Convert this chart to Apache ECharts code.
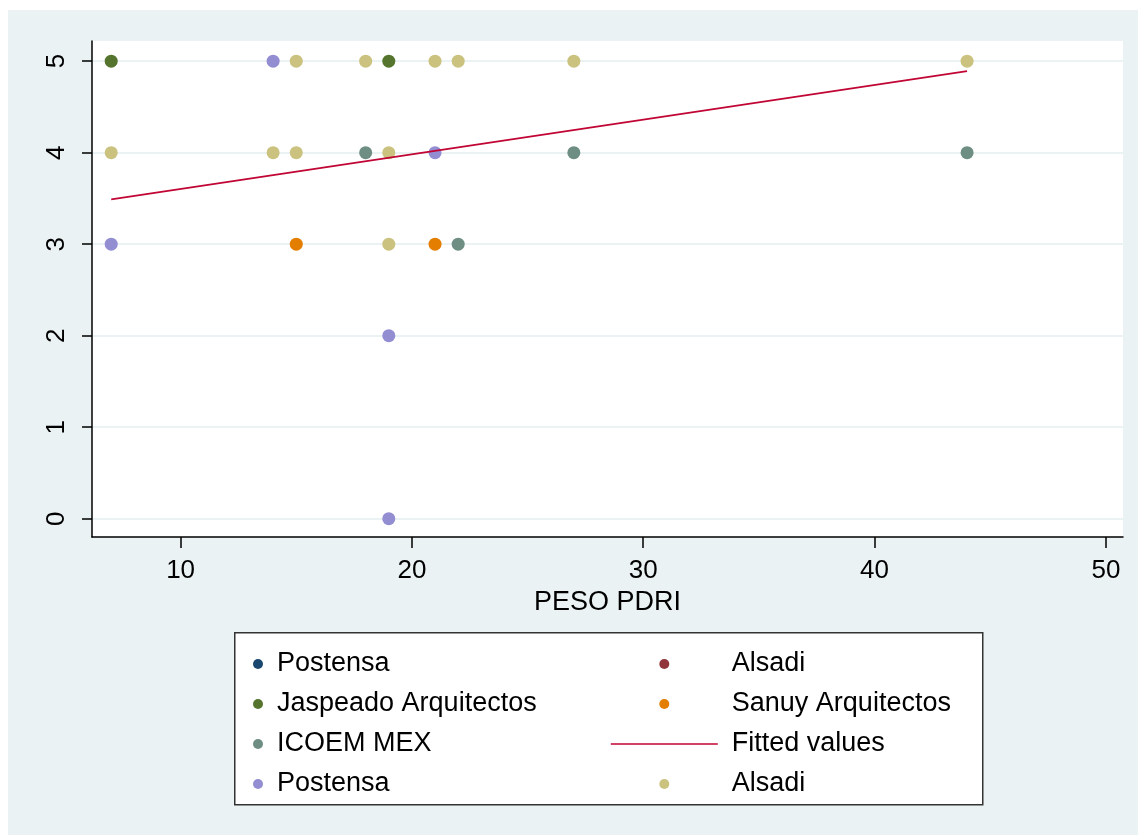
<!DOCTYPE html>
<html>
<head>
<meta charset="utf-8">
<script src="https://cdn.jsdelivr.net/npm/echarts@6/dist/echarts.min.js"></script>
<style>
  html, body { margin: 0; padding: 0; background: #ffffff; }
  #chart { position: absolute; left: 8px; top: 10px; width: 1130px; height: 825px; }
</style>
</head>
<body>
<div id="chart"></div>
<script>
// ---- data ----
const xTicks = [10, 20, 30, 40, 50];
const yTicks = [0, 1, 2, 3, 4, 5];
const xTitle = 'PESO PDRI';

const postensaNavy = [];
const alsadiMaroon = [];
const jaspeado = [[7, 5], [19, 5]];
const sanuy = [[15, 3], [21, 3]];
const icoem = [[18, 4], [27, 4], [44, 4], [22, 3]];
const fitted = [[7, 3.49], [44, 4.89]];
const postensaLav = [[14, 5], [21, 4], [7, 3], [19, 2], [19, 0]];
const alsadiKhaki = [[15, 5], [18, 5], [21, 5], [22, 5], [27, 5], [44, 5],
                     [7, 4], [14, 4], [15, 4], [19, 4], [19, 3]];

const names = {
  postensa1: 'Postensa', alsadi1: 'Alsadi', jaspeado: 'Jaspeado Arquitectos',
  sanuy: 'Sanuy Arquitectos', icoem: 'ICOEM MEX', fitted: 'Fitted values',
  postensa2: 'Postensa ', alsadi2: 'Alsadi '
};

const FONT = 'Liberation Sans, Arial, sans-serif';
const chart = echarts.init(document.getElementById('chart'));

function scatter(name, data, color) {
  return {
    type: 'scatter', name: name, data: data, symbol: 'circle', symbolSize: 13,
    itemStyle: { color: color, opacity: 1 }, clip: false,
    emphasis: { disabled: true }
  };
}

const legendText = { fontFamily: FONT, fontSize: 27, color: '#000', lineHeight: 30, padding: [0, 0, 0, 9] };

chart.setOption({
  animation: false,
  backgroundColor: '#eaf2f3',
  textStyle: { fontFamily: FONT },
  grid: {
    left: 84, top: 31, right: 15, bottom: 298,
    containLabel: false, outerBoundsMode: 'none',
    show: true, backgroundColor: '#ffffff', borderWidth: 0
  },
  xAxis: {
    type: 'value', min: 6.17, max: 50.74,
    name: xTitle, nameLocation: 'middle', nameGap: 49,
    nameTextStyle: { fontFamily: FONT, fontSize: 27, color: '#000' },
    axisLine: { show: true, onZero: false, lineStyle: { color: '#000', width: 1.5 } },
    axisTick: { show: true, length: 11, customValues: xTicks, lineStyle: { color: '#000', width: 1.5 } },
    axisLabel: { customValues: xTicks, fontFamily: FONT, fontSize: 26, color: '#000', margin: 21 },
    splitLine: { show: false }
  },
  yAxis: {
    type: 'value', min: -0.2, max: 5.22,
    axisLine: { show: true, onZero: false, lineStyle: { color: '#000', width: 1.5 } },
    axisTick: { show: true, length: 10, customValues: yTicks, lineStyle: { color: '#000', width: 1.5 } },
    axisLabel: { customValues: yTicks, rotate: 90, fontFamily: FONT, fontSize: 26, color: '#000', margin: 22 },
    splitLine: { show: true, lineStyle: { color: '#eaf2f3', width: 2 } }
  },
  graphic: [{
    type: 'rect', left: 226, top: 622, z: 1,
    shape: { width: 748, height: 172 },
    style: { fill: '#ffffff', stroke: '#333333', lineWidth: 1.5 }
  }],
  legend: [{
    orient: 'vertical', left: 240, top: 634, itemWidth: 10, itemHeight: 10, itemGap: 10,
    icon: 'circle', textStyle: legendText, z: 5,
    data: [names.postensa1, names.jaspeado, names.icoem, names.postensa2],
    selectedMode: false
  }, {
    orient: 'vertical', left: 597, top: 634, itemWidth: 107, itemHeight: 10, itemGap: 10,
    textStyle: legendText, z: 5,
    data: [{ name: names.alsadi1, icon: 'circle' }, { name: names.sanuy, icon: 'circle' },
           { name: names.fitted, itemStyle: { opacity: 0 }, lineStyle: { width: 1.6, color: '#c10534' } },
           { name: names.alsadi2, icon: 'circle' }],
    selectedMode: false
  }],
  series: [
    scatter(names.postensa1, postensaNavy, '#1a476f'),
    scatter(names.alsadi1, alsadiMaroon, '#90353b'),
    scatter(names.jaspeado, jaspeado, '#55752f'),
    scatter(names.sanuy, sanuy, '#e37e00'),
    scatter(names.icoem, icoem, '#6e8e84'),
    {
      type: 'line', name: names.fitted, data: fitted, symbol: 'none', showSymbol: false,
      lineStyle: { color: '#c10534', width: 1.8 }, itemStyle: { color: '#c10534' },
      emphasis: { disabled: true }
    },
    scatter(names.postensa2, postensaLav, '#938dd2'),
    scatter(names.alsadi2, alsadiKhaki, '#cac27e')
  ]
});
</script>
</body>
</html>
